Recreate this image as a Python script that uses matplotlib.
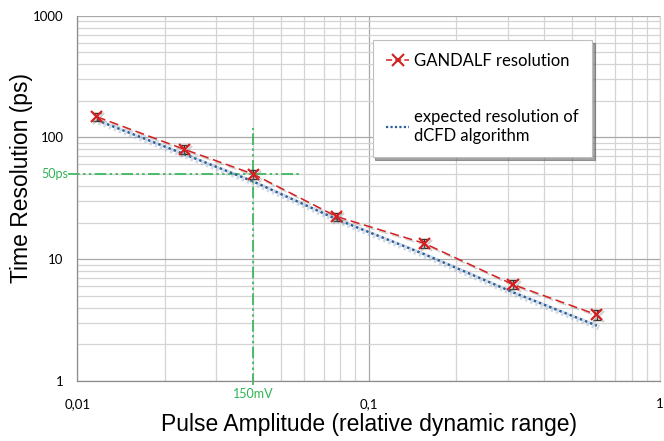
import matplotlib
matplotlib.use("Agg")
import matplotlib.pyplot as plt
import matplotlib.patheffects as pe
from matplotlib.lines import Line2D
from matplotlib.ticker import LogLocator, NullFormatter

# ---- data ----
amplitude = [0.01166, 0.02328, 0.0402, 0.0777, 0.1553, 0.313, 0.607]
gandalf_ps = [148, 80, 50, 22.4, 13.5, 6.2, 3.5]
gandalf_err = [12, 7, 4, 1.8, 1.1, 0.5, 0.3]
expected_ps = [139, 73, 43.5, 21.3, 11.0, 5.35, 2.85]
x_ticks = [0.01, 0.1, 1]
x_tick_labels = ["0,01", "0,1", "1"]
y_ticks = [1, 10, 100, 1000]
y_tick_labels = ["1", "10", "100", "1000"]
ref_amp = 0.0402   # 150mV
ref_res = 50       # 50ps

green = "#2fb453"
red = "#d42020"
blue = "#2d5f9a"

fig = plt.figure(figsize=(6.64, 4.41), dpi=100)
ax = fig.add_axes([0.1164, 0.136, 0.8776, 0.8284])
ax.set_xscale("log")
ax.set_yscale("log")
ax.set_xlim(0.01, 1)
ax.set_ylim(1, 1000)

# grid
ax.xaxis.set_minor_locator(LogLocator(base=10, subs=range(2, 10)))
ax.yaxis.set_minor_locator(LogLocator(base=10, subs=range(2, 10)))
ax.xaxis.set_minor_formatter(NullFormatter())
ax.yaxis.set_minor_formatter(NullFormatter())
ax.grid(True, which="minor", color="#d4d4d4", lw=0.9)
ax.grid(True, which="major", color="#a8a8a8", lw=0.9)
ax.set_axisbelow(True)
ax.set_xticks(x_ticks)
ax.set_xticklabels(x_tick_labels)
ax.set_yticks(y_ticks)
ax.set_yticklabels(y_tick_labels)
ax.tick_params(which="both", length=0)
ax.tick_params(axis="x", pad=12, labelsize=9.5)
ax.tick_params(axis="y", pad=10, labelsize=9.5)
for lab in ax.get_xticklabels() + ax.get_yticklabels():
    lab.set_family("Lato")
ax.spines["top"].set_visible(False)
for s in ["left", "bottom"]:
    ax.spines[s].set_color("#8c8c8c")
    ax.spines[s].set_linewidth(0.9)
ax.spines["right"].set_color("#d4d4d4")

# reference green dash-dot lines
ax.plot([ref_amp, ref_amp], [0.93, 120], color=green, lw=1.2,
        ls=(0, (7, 2, 1.5, 2, 1.5, 2)), clip_on=False, zorder=2)
ax.plot([0.0093, 0.058], [ref_res, ref_res], color=green, lw=1.2,
        ls=(0, (7, 2, 1.5, 2, 1.5, 2)), clip_on=False, zorder=2)
ax.text(ref_amp, 0.78, "150mV", color=green, ha="center", va="center",
        fontsize=9, family="Lato")
ax.text(0.0093, ref_res, "50ps", color=green, ha="right", va="center",
        fontsize=9, family="Lato")

shadow = [pe.SimpleLineShadow(offset=(1.5, -1.5), shadow_color="#9ab0c8", alpha=0.45, linewidth=4),
          pe.Normal()]
ax.plot(amplitude, expected_ps, color=blue, lw=1.8, ls=(0, (1, 1.2)),
        path_effects=shadow, zorder=3)

ax.errorbar(amplitude, gandalf_ps, yerr=gandalf_err, fmt="none",
            ecolor="#333333", elinewidth=1.0, capsize=3, zorder=4)
ax.plot(amplitude, gandalf_ps, color=red, lw=1.1, ls=(0, (6, 3)),
        marker="x", ms=8, mew=1.6, mec=red, zorder=5,
        path_effects=[pe.SimpleLineShadow(offset=(1.5, -1.5), shadow_color="gray", alpha=0.35),
                      pe.Normal()])

fig.text(369 / 664, 1 - 425 / 441, "Pulse Amplitude (relative dynamic range)",
         family="Liberation Sans", fontsize=16.5, ha="center", va="center")
fig.text(22 / 664, 1 - 178 / 441, "Time Resolution (ps)", family="Liberation Sans",
         fontsize=16.5, ha="center", va="center", rotation=90)

handles = [Line2D([], [], color=red, ls=(0, (4, 2)), marker="x", ms=8, mew=1.5, lw=1.1),
           Line2D([], [], color=blue, ls=(0, (1, 1)), lw=1.6)]
leg = ax.legend(handles, ["GANDALF resolution", "expected resolution of\ndCFD algorithm"],
                loc="upper left", bbox_to_anchor=(372.7 / 664, 1 - 40 / 441),
                bbox_transform=fig.transFigure, frameon=True, fancybox=False,
                shadow=True, prop={"family": "Lato", "size": 12},
                handlelength=1.4, handletextpad=0.3, labelspacing=2.4,
                borderpad=0.8, borderaxespad=0)
leg.get_frame().set_edgecolor("#bfbfbf")
leg.get_frame().set_linewidth(0.8)

fig.savefig("out.png", dpi=100)
